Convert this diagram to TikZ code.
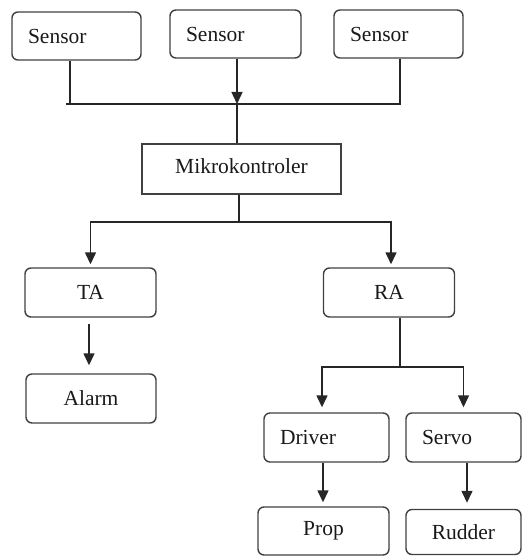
\documentclass[tikz,border=0pt]{standalone}
\usepackage{fontspec}
\setmainfont{Liberation Serif}
\usetikzlibrary{arrows.meta,calc}
\begin{document}
\begin{tikzpicture}[x=1pt,y=-1pt,
  box/.style={draw=black!75, rounded corners=6pt, line width=1.4pt, inner sep=0pt,
    minimum height=48pt, font=\fontsize{21.5}{24}\selectfont, text=black!90},
  lbox/.style={box, align=left, inner xsep=16pt},
  ln/.style={line width=1.4pt, draw=black!85},
  arr/.style={ln, -{Triangle[width=11pt,length=12pt]}}]
\useasboundingbox (0,0) rectangle (527,556);
% sensors
\node[lbox, text width=97pt] (s1) at (76.5,36) {Sensor};
\node[lbox, text width=99pt] (s2) at (235.5,34) {Sensor};
\node[lbox, text width=97pt] (s3) at (398.5,34) {Sensor};
% microcontroller
\node[box, rounded corners=0pt, minimum width=199pt, minimum height=50pt] (mk) at (241.5,169) {\raisebox{5pt}{Mikrokontroler}};
% outputs
\node[box, minimum width=131pt, minimum height=49pt] (ta) at (90.5,292.5) {TA};
\node[box, minimum width=131pt, minimum height=49pt] (ra) at (389,292.5) {RA};
\node[box, minimum width=130pt, minimum height=49pt] (alarm) at (91,398.5) {Alarm};
\node[lbox, text width=93pt, minimum height=49pt] (driver) at (326.5,437.5) {Driver};
\node[lbox, text width=83pt, minimum height=49pt] (servo) at (463.5,437.5) {Servo};
\node[box, minimum width=131pt] (prop) at (323.5,531) {Prop};
\node[box, minimum width=115pt, minimum height=45pt] (rudder) at (463.5,532) {Rudder};
% sensor bus
\coordinate (b1) at (70,104);
\coordinate (b3) at (400,104);
\coordinate (bm) at (237,104);
\draw[ln] (b1 |- s1.south) -- (b1);
\draw[ln] (b3 |- s3.south) -- (b3);
\draw[ln] ($(b1)+(-4,0)$) -- ($(b3)+(1,0)$);
\draw[arr] (bm |- s2.south) -- (bm);
\draw[ln] (bm) -- (bm |- mk.north);
% mk split
\coordinate (sp) at (239,222);
\draw[ln] (sp |- mk.south) -- (sp);
\draw[arr] (sp) -| ($(ta.north)+(0,-3)$);
\draw[arr] (sp) -| ($(ra.north)+(2,-3)$);
% TA -> Alarm
\coordinate (xa) at (89,0);
\draw[arr] ($(xa |- ta.south)+(0,6)$) -- ($(xa |- alarm.north)+(0,-8)$);
% RA split
\coordinate (rj) at (400,367);
\draw[ln] (rj |- ra.south) -- (rj);
\draw[arr] (rj) -| ($(driver.north)+(-4.5,-5)$);
\draw[arr] (rj) -| ($(servo.north)+(0,-5)$);
% to actuators
\coordinate (xp) at (323,0);
\coordinate (xr) at (467,0);
\draw[arr] (xp |- driver.south) -- ($(xp |- prop.north)+(0,-4)$);
\draw[arr] (xr |- servo.south) -- ($(xr |- rudder.north)+(0,-6)$);
\end{tikzpicture}
\end{document}
